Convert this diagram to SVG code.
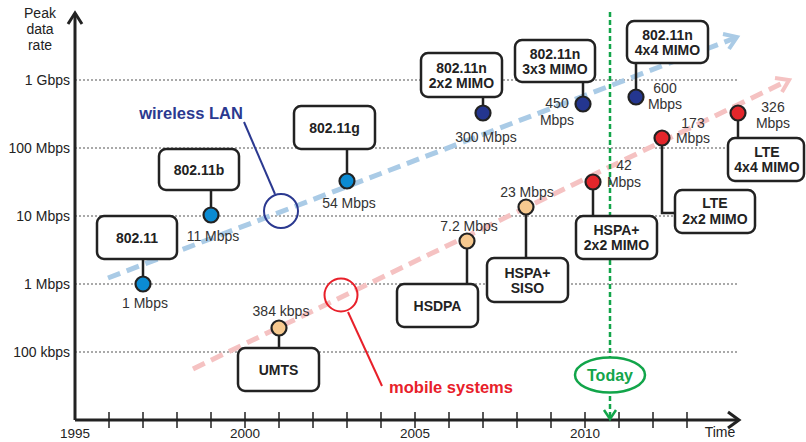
<svg xmlns="http://www.w3.org/2000/svg" width="806" height="442" viewBox="0 0 806 442">
<style>
  text { font-family: "Liberation Sans", Arial, sans-serif; }
  .ax { stroke: #222; stroke-width: 3; fill: none; }
  .tick { stroke: #222; stroke-width: 1.5; }
  .grid { stroke: #555; stroke-width: 1.2; stroke-dasharray: 2 2; }
  .lbl { font-size: 14px; fill: #222; }
  .yr { font-size: 13.5px; fill: #222; text-anchor: middle; }
  .val { font-size: 14px; fill: #333; text-anchor: middle; }
  .box rect { fill: #fff; stroke: #222; stroke-width: 2.5; }
  .box text { font-size: 14px; font-weight: bold; fill: #222; text-anchor: middle; }
  .box text.val { font-weight: normal; fill: #333; }
  .stem { stroke: #222; stroke-width: 2.5; fill: none; }
  .dot { stroke: #222; stroke-width: 2.2; }
  .wl { fill: #0b8bd3; }
  .wn { fill: #24368f; }
  .mp { fill: #f7c98f; }
  .mr { fill: #e3262b; }
</style>

<g id="grid">
  <line class="grid" x1="75" y1="80" x2="739" y2="80"/>
  <line class="grid" x1="75" y1="148" x2="739" y2="148"/>
  <line class="grid" x1="75" y1="216" x2="739" y2="216"/>
  <line class="grid" x1="75" y1="284" x2="739" y2="284"/>
  <line class="grid" x1="75" y1="352" x2="739" y2="352"/>
</g>

<g id="axes">
  <line class="ax" x1="75" y1="420" x2="75" y2="13"/>
  <polyline class="ax" points="68,24 75,13 82,24"/>
  <line class="ax" x1="75" y1="420" x2="738" y2="420"/>
  <polyline class="ax" points="728,412 739,420 728,428"/>
  <g class="tick">
    <line x1="109" y1="412" x2="109" y2="428"/>
    <line x1="143" y1="412" x2="143" y2="428"/>
    <line x1="177" y1="412" x2="177" y2="428"/>
    <line x1="211" y1="412" x2="211" y2="428"/>
    <line x1="245" y1="412" x2="245" y2="428"/>
    <line x1="279" y1="412" x2="279" y2="428"/>
    <line x1="313" y1="412" x2="313" y2="428"/>
    <line x1="347" y1="412" x2="347" y2="428"/>
    <line x1="381" y1="412" x2="381" y2="428"/>
    <line x1="415" y1="412" x2="415" y2="428"/>
    <line x1="449" y1="412" x2="449" y2="428"/>
    <line x1="483" y1="412" x2="483" y2="428"/>
    <line x1="517" y1="412" x2="517" y2="428"/>
    <line x1="551" y1="412" x2="551" y2="428"/>
    <line x1="585" y1="412" x2="585" y2="428"/>
    <line x1="619" y1="412" x2="619" y2="428"/>
    <line x1="653" y1="412" x2="653" y2="428"/>
    <line x1="687" y1="412" x2="687" y2="428"/>
  </g>
  <text class="lbl" x="40" y="18" text-anchor="middle">Peak</text>
  <text class="lbl" x="40" y="34" text-anchor="middle">data</text>
  <text class="lbl" x="40" y="50" text-anchor="middle">rate</text>
  <text class="lbl" x="70" y="85" text-anchor="end">1 Gbps</text>
  <text class="lbl" x="70" y="153" text-anchor="end">100 Mbps</text>
  <text class="lbl" x="70" y="221" text-anchor="end">10 Mbps</text>
  <text class="lbl" x="70" y="289" text-anchor="end">1 Mbps</text>
  <text class="lbl" x="70" y="357" text-anchor="end">100 kbps</text>
  <text class="yr" x="75" y="438">1995</text>
  <text class="yr" x="245" y="438">2000</text>
  <text class="yr" x="415" y="438">2005</text>
  <text class="yr" x="585" y="438">2010</text>
  <text class="lbl" x="720" y="437" text-anchor="middle">Time</text>
</g>

<g id="connectors">
  <line x1="108" y1="278" x2="735" y2="38" stroke="#aacbe6" stroke-width="5" stroke-dasharray="13 7"/>
  <polyline points="723,34 737,37 729,49" fill="none" stroke="#aacbe6" stroke-width="4"/>
  <line x1="193" y1="369" x2="787" y2="81" stroke="#f5c2c2" stroke-width="5" stroke-dasharray="13 7"/>
  <polyline points="775,78 789,80 782,92" fill="none" stroke="#f5c2c2" stroke-width="4"/>
  <line x1="244" y1="122" x2="275" y2="194" stroke="#2b3990" stroke-width="2"/>
  <line x1="348" y1="312" x2="382" y2="386" stroke="#e8202a" stroke-width="2"/>
  <line x1="610" y1="12" x2="610" y2="417" stroke="#12a54a" stroke-width="2.5" stroke-dasharray="5 3"/>
  <polyline points="604,410 610,419 616,410" fill="none" stroke="#12a54a" stroke-width="2.5"/>
  <line class="stem" x1="143" y1="259" x2="143" y2="277"/>
  <line class="stem" x1="211" y1="190" x2="211" y2="208"/>
  <line class="stem" x1="347" y1="149" x2="347" y2="174"/>
  <line class="stem" x1="483" y1="97" x2="483" y2="106"/>
  <line class="stem" x1="583" y1="82" x2="583" y2="97"/>
  <line class="stem" x1="636" y1="63" x2="636" y2="90"/>
  <line class="stem" x1="738" y1="121" x2="738" y2="138"/>
  <polyline class="stem" points="662,146 662,213 675,213"/>
  <line class="stem" x1="593" y1="190" x2="593" y2="216"/>
  <line class="stem" x1="526" y1="215" x2="526" y2="258"/>
  <line class="stem" x1="467" y1="249" x2="467" y2="284"/>
  <line class="stem" x1="279" y1="336" x2="279" y2="348"/>
</g>

<g id="wlan-label">
  <circle cx="281" cy="211" r="17" fill="none" stroke="#2b3990" stroke-width="2"/>
  <text x="191" y="119" text-anchor="middle" font-size="16.5" font-weight="bold" fill="#2b3990">wireless LAN</text>
</g>
<g id="mobile-label">
  <circle cx="341" cy="295" r="16.5" fill="none" stroke="#e8202a" stroke-width="2"/>
  <text x="451" y="393" text-anchor="middle" font-size="16.5" font-weight="bold" fill="#e8202a">mobile systems</text>
</g>
<g id="today">
  <ellipse cx="610" cy="375" rx="35" ry="17.5" fill="#fff" stroke="#12a54a" stroke-width="2.5"/>
  <text x="610" y="381" text-anchor="middle" font-size="16" font-weight="bold" fill="#12a54a">Today</text>
</g>

<g id="n80211" class="box">
  <rect x="97" y="216" width="80" height="43" rx="7"/>
  <text x="137" y="243">802.11</text>
  <circle class="dot wl" cx="143" cy="284" r="7.5"/>
  <text class="val" x="145" y="308">1 Mbps</text>
</g>
<g id="n80211b" class="box">
  <rect x="159" y="149" width="80" height="41" rx="7"/>
  <text x="199" y="175">802.11b</text>
  <circle class="dot wl" cx="211" cy="215" r="7.5"/>
  <text class="val" x="213" y="241">11 Mbps</text>
</g>
<g id="n80211g" class="box">
  <rect x="294" y="106" width="81" height="43" rx="7"/>
  <text x="334.5" y="133">802.11g</text>
  <circle class="dot wl" cx="347" cy="181" r="7.5"/>
  <text class="val" x="349" y="208">54 Mbps</text>
</g>
<g id="n80211n2" class="box">
  <rect x="421" y="53" width="81" height="44" rx="7"/>
  <text x="461.5" y="73">802.11n</text>
  <text x="461.5" y="88">2x2 MIMO</text>
  <circle class="dot wn" cx="483" cy="113" r="7.5"/>
  <text class="val" x="486" y="142">300 Mbps</text>
</g>
<g id="n80211n3" class="box">
  <rect x="515" y="40" width="80" height="42" rx="7"/>
  <text x="555" y="59">802.11n</text>
  <text x="555" y="74">3x3 MIMO</text>
  <circle class="dot wn" cx="583" cy="104" r="7.5"/>
  <text class="val" x="557" y="108">450</text>
  <text class="val" x="557" y="125">Mbps</text>
</g>
<g id="n80211n4" class="box">
  <rect x="627" y="21" width="81" height="42" rx="7"/>
  <text x="667.5" y="40">802.11n</text>
  <text x="667.5" y="55">4x4 MIMO</text>
  <circle class="dot wn" cx="636" cy="97" r="7.5"/>
  <text class="val" x="665" y="93">600</text>
  <text class="val" x="665" y="109">Mbps</text>
</g>
<g id="umts" class="box">
  <rect x="238" y="348" width="81" height="43" rx="7"/>
  <text x="278.5" y="375">UMTS</text>
  <circle class="dot mp" cx="279" cy="328" r="7.5"/>
  <text class="val" x="281" y="316">384 kbps</text>
</g>
<g id="hsdpa" class="box">
  <rect x="397" y="284" width="81" height="43" rx="7"/>
  <text x="437.5" y="311">HSDPA</text>
  <circle class="dot mp" cx="467" cy="241" r="7.5"/>
  <text class="val" x="469" y="231">7.2 Mbps</text>
</g>
<g id="hspa-siso" class="box">
  <rect x="487" y="258" width="81" height="44" rx="7"/>
  <text x="527.5" y="278">HSPA+</text>
  <text x="527.5" y="293">SISO</text>
  <circle class="dot mp" cx="526" cy="207" r="7.5"/>
  <text class="val" x="527" y="197">23 Mbps</text>
</g>
<g id="hspa-mimo" class="box">
  <rect x="576" y="216" width="81" height="43" rx="7"/>
  <text x="616.5" y="235">HSPA+</text>
  <text x="616.5" y="250">2x2 MIMO</text>
  <circle class="dot mr" cx="593" cy="182" r="7.5"/>
  <text class="val" x="624" y="170">42</text>
  <text class="val" x="624" y="187">Mbps</text>
</g>
<g id="lte2" class="box">
  <rect x="675" y="190" width="80" height="43" rx="7"/>
  <text x="715" y="208">LTE</text>
  <text x="715" y="224">2x2 MIMO</text>
  <circle class="dot mr" cx="662" cy="138" r="7.5"/>
  <text class="val" x="693" y="128">173</text>
  <text class="val" x="693" y="143">Mbps</text>
</g>
<g id="lte4" class="box">
  <rect x="728" y="138" width="76" height="43" rx="7"/>
  <text x="767" y="157">LTE</text>
  <text x="767" y="172">4x4 MIMO</text>
  <circle class="dot mr" cx="738" cy="113" r="7.5"/>
  <text class="val" x="773" y="112">326</text>
  <text class="val" x="773" y="128">Mbps</text>
</g>
</svg>
